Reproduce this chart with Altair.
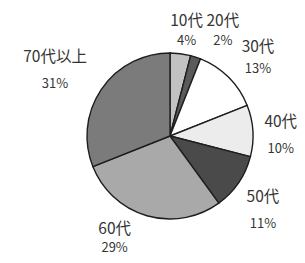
import altair as alt
import pandas as pd

categories = ["10代", "20代", "30代", "40代", "50代", "60代", "70代以上"]
shares = [4, 2, 13, 10, 11, 29, 31]
colors = ["#c2c2c2", "#5a5a5a", "#ffffff", "#ececec", "#4a4a4a", "#a9a9a9", "#7b7b7b"]

df = pd.DataFrame({
    "idx": list(range(len(categories))),
    "cat": categories,
    "share": shares,
    "pct": [f"{s}%" for s in shares],
})

CX, CY = 162, 128
theta_scale = alt.Scale(domain=[0, 100])

arc = alt.Chart(df).mark_arc(outerRadius=83, stroke="#1e1e1e", strokeWidth=1.4).encode(
    theta=alt.Theta("share:Q", stack=True, scale=theta_scale),
    order=alt.Order("idx:Q"),
    color=alt.Color("cat:N", scale=alt.Scale(domain=categories, range=colors), legend=None),
    x=alt.value(CX),
    y=alt.value(CY),
)

lab = (
    alt.Chart(df)
    .transform_window(cum="sum(share)", sort=[alt.SortField("idx")])
    .transform_calculate(mid="datum.cum - datum.share / 2")
)

# label nudges (style only): (dx, dy of name line, dy of percent line)
nudges = {
    "10代": (2, 0, 20), "20代": (17, -5, 15), "30代": (6, -7, 15),
    "40代": (-5, -7, 20), "50代": (-3, -4, 23), "60代": (-23, -18, 1),
    "70代以上": (-19, -14, 13),
}

def text_layer(cat, field, size, dx, dy):
    return lab.transform_filter(f"datum.cat == '{cat}'").mark_text(
        radius=116, font="Noto Sans CJK JP", fontSize=size, fill="#353535",
        align="center", baseline="middle", dx=dx, dy=dy,
    ).encode(
        theta=alt.Theta("mid:Q", stack=None, scale=theta_scale),
        text=f"{field}:N",
        x=alt.value(CX),
        y=alt.value(CY),
    )

layers = [arc]
for cat, (dx, dyn, dyp) in nudges.items():
    layers.append(text_layer(cat, "cat", 15.5, dx, dyn))
    layers.append(text_layer(cat, "pct", 13, dx, dyp))

chart = alt.layer(*layers).properties(
    width=289, height=247, padding=0,
    autosize=alt.AutoSizeParams(type="none"),
).configure_view(stroke=None)

chart.save("out.html", embed_options={"renderer": "svg", "actions": False})
